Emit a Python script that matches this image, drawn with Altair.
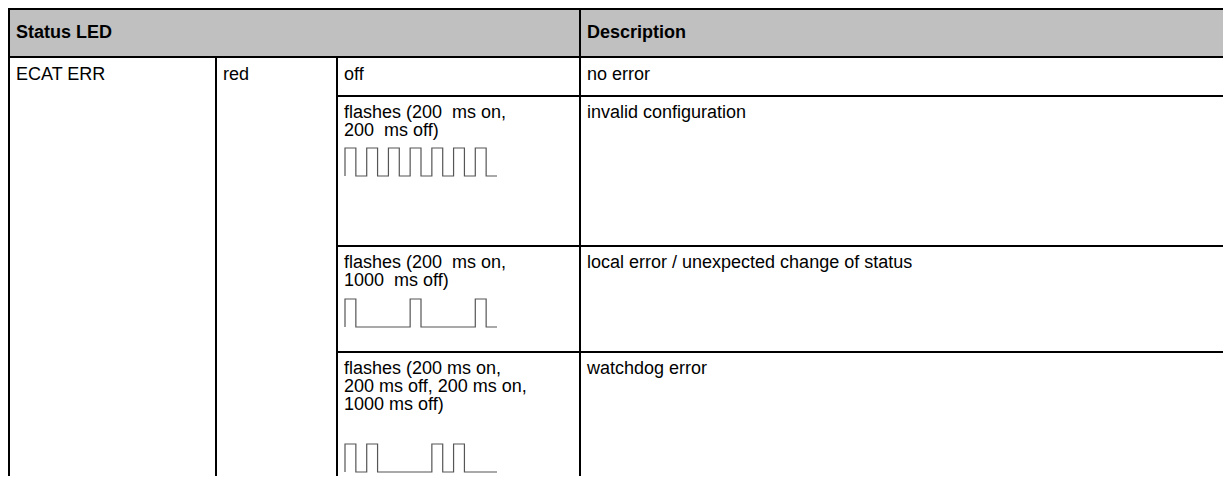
import altair as alt
import pandas as pd

# ---------------- data ----------------
header_labels = ["Status LED", "Description"]
led_name = "ECAT ERR"
led_colour = "red"
led_states = [
    ["off"],
    ["flashes (200\u00a0 ms on,", "200\u00a0 ms off)"],
    ["flashes (200\u00a0 ms on,", "1000\u00a0 ms off)"],
    ["flashes (200 ms on,", "200 ms off, 200 ms on,", "1000 ms off)"],
]
descriptions = [
    "no error",
    "invalid configuration",
    "local error / unexpected change of status",
    "watchdog error",
]
# blink patterns in ms, alternating on / off, starting with "on"
blink_patterns = [
    None,
    [200, 200, 200, 200, 200, 200, 200, 200, 200, 200, 200, 200, 200, 200],
    [200, 1000, 200, 1000, 200, 200],
    [200, 200, 200, 1000, 200, 200, 200, 600],
]

# ---------------- layout (page pixels) ----------------
W, H = 1215, 468
ORIG = 8
RIGHT = ORIG + W
BOTTOM = ORIG + H + 20
col_lines = [9, 216, 337, 580]
table_top = 9
header_bottom = 57
row_tops = [57, 96, 246, 352]
text_offsets = [18, 17, 17, 17]
wave_tops = [None, 148, 299, 444]
pad_x = 7
line_step = 18
wave_h = 28
wave_x0, wave_w, wave_span_ms = 345, 152, 2800
FONT = "Liberation Sans"
FS = 18

# header band
rect_df = pd.DataFrame([{"x": ORIG, "x2": RIGHT, "y": ORIG, "y2": header_bottom}])

# grid lines
rules = []
rules.append({"x": ORIG, "x2": RIGHT, "y": table_top, "y2": table_top})
rules.append({"x": ORIG, "x2": RIGHT, "y": header_bottom, "y2": header_bottom})
for rt in row_tops[1:]:
    rules.append({"x": col_lines[2], "x2": RIGHT, "y": rt, "y2": rt})
rules.append({"x": col_lines[0], "x2": col_lines[0], "y": table_top, "y2": BOTTOM})
rules.append({"x": col_lines[3], "x2": col_lines[3], "y": table_top, "y2": BOTTOM})
rules.append({"x": col_lines[1], "x2": col_lines[1], "y": header_bottom, "y2": BOTTOM})
rules.append({"x": col_lines[2], "x2": col_lines[2], "y": header_bottom, "y2": BOTTOM})
rule_df = pd.DataFrame(rules)

# texts
hdr_df = pd.DataFrame([
    {"x": col_lines[0] + pad_x, "y": 33, "t": header_labels[0]},
    {"x": col_lines[3] + pad_x, "y": 33, "t": header_labels[1]},
])

txt = []
txt.append({"x": col_lines[0] + pad_x, "y": row_tops[0] + text_offsets[0], "t": led_name})
txt.append({"x": col_lines[1] + pad_x, "y": row_tops[0] + text_offsets[0], "t": led_colour})
for i, lines in enumerate(led_states):
    for j, ln in enumerate(lines):
        txt.append({"x": col_lines[2] + pad_x, "y": row_tops[i] + text_offsets[i] + j * line_step, "t": ln})
    txt.append({"x": col_lines[3] + pad_x, "y": row_tops[i] + text_offsets[i], "t": descriptions[i]})
txt_df = pd.DataFrame(txt)

# waveforms
wave = []
for i, pat in enumerate(blink_patterns):
    if pat is None:
        continue
    top = wave_tops[i]
    bot = top + wave_h
    sx = wave_w / wave_span_ms
    t = 0
    k = 0
    wave.append({"w": i, "k": k, "x": wave_x0, "y": bot}); k += 1
    level = True
    for d in pat:
        yv = top if level else bot
        wave.append({"w": i, "k": k, "x": wave_x0 + t * sx, "y": yv}); k += 1
        t += d
        wave.append({"w": i, "k": k, "x": wave_x0 + t * sx, "y": yv}); k += 1
        level = not level
wave_df = pd.DataFrame(wave)

xs = alt.Scale(domain=[ORIG, RIGHT], nice=False, zero=False)
ys = alt.Scale(domain=[ORIG, ORIG + H], nice=False, zero=False, reverse=True)

band = alt.Chart(rect_df).mark_rect(color="#c0c0c0").encode(
    x=alt.X("x:Q", scale=xs, axis=None), x2="x2:Q",
    y=alt.Y("y:Q", scale=ys, axis=None), y2="y2:Q",
)
grid = alt.Chart(rule_df).mark_rule(color="#000000", strokeWidth=2).encode(
    x=alt.X("x:Q", scale=xs, axis=None), x2="x2:Q",
    y=alt.Y("y:Q", scale=ys, axis=None), y2="y2:Q",
)
hdr = alt.Chart(hdr_df).mark_text(align="left", baseline="middle", font=FONT, fontSize=FS,
                                  fontWeight="bold", color="#000000").encode(
    x=alt.X("x:Q", scale=xs, axis=None), y=alt.Y("y:Q", scale=ys, axis=None), text="t:N",
)
body = alt.Chart(txt_df).mark_text(align="left", baseline="middle", font=FONT, fontSize=FS,
                                   color="#000000").encode(
    x=alt.X("x:Q", scale=xs, axis=None), y=alt.Y("y:Q", scale=ys, axis=None), text="t:N",
)
waves = alt.Chart(wave_df).mark_line(color="#555555", strokeWidth=1.2, interpolate="linear").encode(
    x=alt.X("x:Q", scale=xs, axis=None), y=alt.Y("y:Q", scale=ys, axis=None),
    detail="w:N", order="k:Q",
)

chart = alt.layer(band, grid, waves, hdr, body).properties(
    width=W, height=H, padding=0, autosize=alt.AutoSizeParams(type="none"),
).configure_view(strokeWidth=0).configure(background="#ffffff")

chart.save("out.html", embed_options={"renderer": "svg", "actions": False})
